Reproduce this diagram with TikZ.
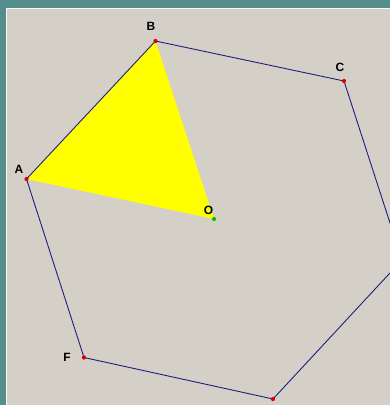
\documentclass[tikz,border=0pt]{standalone}
\usepackage{fontspec}
\setmainfont{Liberation Sans}
\definecolor{bgc}{HTML}{D4D0C8}
\definecolor{frame}{HTML}{558C8C}
\definecolor{edge}{HTML}{1E1E82}
\definecolor{tri}{RGB}{255,255,0}
\definecolor{ptred}{RGB}{220,0,0}
\definecolor{ptgreen}{RGB}{0,200,0}
\tikzset{
  pt/.style={circle,fill=ptred,inner sep=0pt,minimum size=4.2pt},
  lbl/.style={font=\bfseries\fontsize{12}{14}\selectfont,inner sep=0pt},
  side/.style={draw=edge,line width=0.9pt}
}
\begin{document}
\begin{tikzpicture}[x=1pt,y=-1pt]
\useasboundingbox (0,0) rectangle (390,405);
\fill[frame] (0,0) rectangle (390,405);
\fill[bgc] (6,8) rectangle (390,405);
\draw[white!85!bgc,line width=0.8pt] (6.4,405) -- (6.4,8.4) -- (390,8.4);
\coordinate (A) at (26.5,179);
\coordinate (B) at (155.5,41);
\coordinate (C) at (344,81);
\coordinate (D) at (402,260);
\coordinate (E) at (273,399);
\coordinate (F) at (84,357.5);
\coordinate (O) at (214,219);
\fill[tri] (A) -- (B) -- (O) -- cycle;
\begin{scope}
\clip (6,8) rectangle (390,405);
\draw[side] (A) -- (B) -- (C) -- (D) -- (E) -- (F) -- cycle;
\end{scope}
\node[pt] (pA) at (A) {};
\node[pt] (pB) at (B) {};
\node[pt] (pC) at (C) {};
\node[pt] (pE) at (E) {};
\node[pt] (pF) at (F) {};
\node[pt,fill=ptgreen] (pO) at (O) {};
\node[lbl] (lA) at (19,169) {A};
\node[lbl] (lB) at (151,26.5) {B};
\node[lbl] (lC) at (340,67.5) {C};
\node[lbl] (lF) at (67,357.5) {F};
\node[lbl] (lO) at (208.5,210.5) {O};
\end{tikzpicture}
\end{document}
